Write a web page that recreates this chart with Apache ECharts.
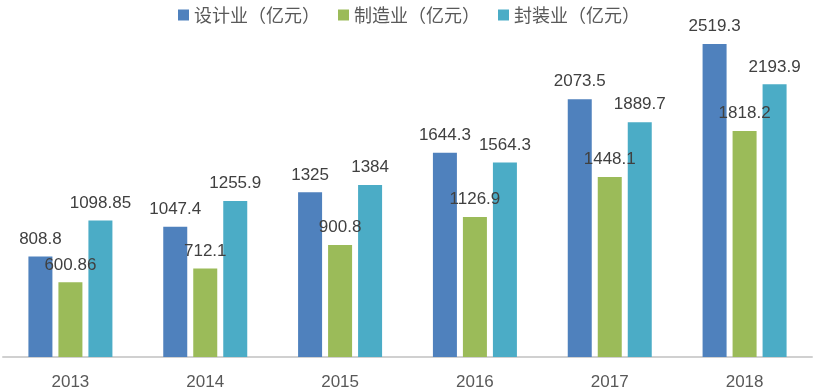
<!DOCTYPE html>
<html><head><meta charset="utf-8">
<script src="https://cdn.jsdelivr.net/npm/echarts@6/dist/echarts.min.js"></script>
<style>html,body{margin:0;padding:0;background:#fff}#c{width:818px;height:391px}</style>
</head><body><div id="c"></div>
<script>
var categories = ['2013','2014','2015','2016','2017','2018'];
var seriesNames = ['设计业（亿元）','制造业（亿元）','封装业（亿元）'];
var design = [808.8, 1047.4, 1325, 1644.3, 2073.5, 2519.3];
var manufacturing = [600.86, 712.1, 900.8, 1126.9, 1448.1, 1818.2];
var packaging = [1098.85, 1255.9, 1384, 1564.3, 1889.7, 2193.9];
var colors = ['#4F81BD','#9BBB59','#4BACC6'];

var font = '"Liberation Sans", "Noto Sans CJK SC", sans-serif';
var chart = echarts.init(document.getElementById('c'), null, {renderer:'canvas'});
function mk(name, data, color){
  return {
    name: name, type: 'bar', data: data, barWidth: 24, barGap: '25%',
    itemStyle: {color: color},
    label: {show: true, position: 'top', distance: 9, color: '#404040', fontSize: 17, fontFamily: font},
    animation: false
  };
}
chart.setOption({
  animation: false,
  color: colors,
  legend: {
    top: 1, left: 'center', itemWidth: 11, itemHeight: 11, itemGap: 18,
    icon: 'rect',
    textStyle: {color: '#595959', fontSize: 18, fontFamily: '"Noto Sans CJK SC", sans-serif'},
    data: seriesNames
  },
  grid: {left: 3, right: 6, top: 9, bottom: 32, containLabel: false},
  xAxis: {
    type: 'category', data: categories,
    axisLine: {lineStyle: {color: '#D0D0D0', width: 2}},
    axisTick: {show: false},
    axisLabel: {color: '#595959', fontSize: 17, fontFamily: font, margin: 17}
  },
  yAxis: {
    type: 'value', min: 0, max: 2800, show: false,
    splitLine: {show: false}
  },
  series: [mk(seriesNames[0], design, colors[0]), mk(seriesNames[1], manufacturing, colors[1]), mk(seriesNames[2], packaging, colors[2])]
});
</script></body></html>
